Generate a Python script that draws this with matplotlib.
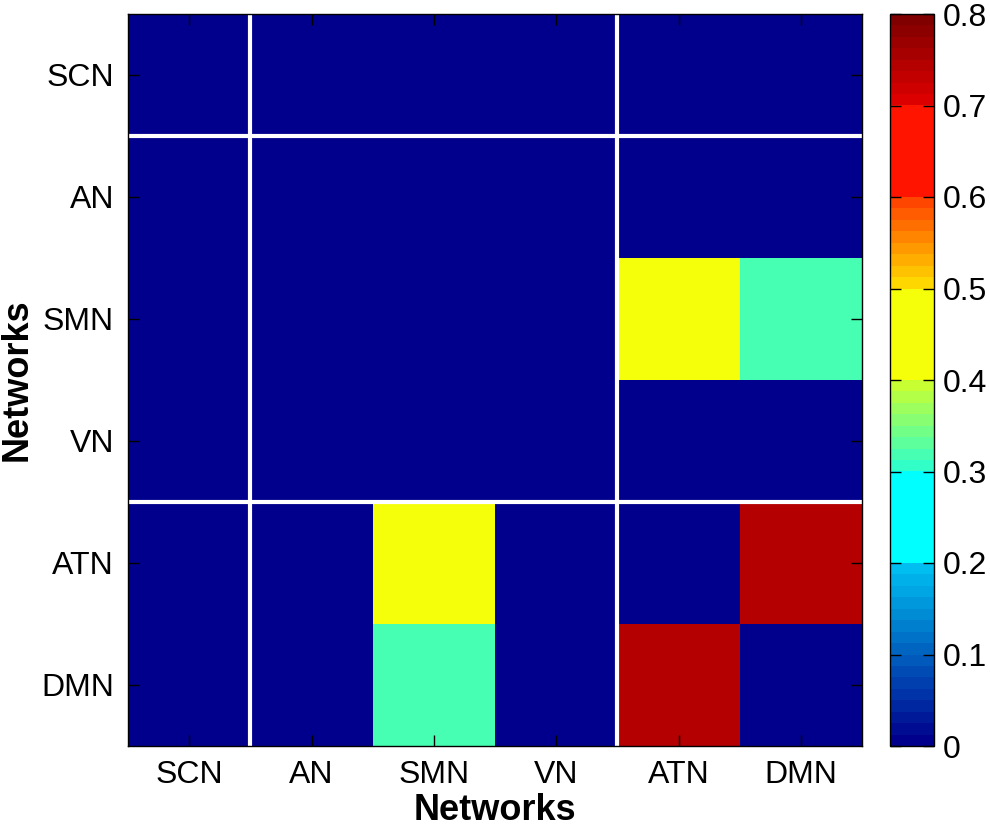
import numpy as np
import matplotlib
matplotlib.use("Agg")
import matplotlib.pyplot as plt
from matplotlib.colors import ListedColormap

plt.rcParams['font.family'] = ['Liberation Sans', 'DejaVu Sans']

networks = ["SCN", "AN", "SMN", "VN", "ATN", "DMN"]

# connectivity matrix, rows top to bottom
conn = np.array([
    [0.00, 0.00, 0.00, 0.00, 0.00, 0.00],
    [0.00, 0.00, 0.00, 0.00, 0.00, 0.00],
    [0.00, 0.00, 0.00, 0.00, 0.45, 0.32],
    [0.00, 0.00, 0.00, 0.00, 0.00, 0.00],
    [0.00, 0.00, 0.45, 0.00, 0.00, 0.74],
    [0.00, 0.00, 0.32, 0.00, 0.74, 0.00],
])

# group boundaries (after SCN, after VN)
group_edges = [0.5, 3.5]

# piecewise jet-like colormap, 64 steps over 0..0.8
def ramp(c0, c1, n):
    c0 = np.array(c0) / 255.0
    c1 = np.array(c1) / 255.0
    return [c0 + (c1 - c0) * i / (n - 1) for i in range(n)]

cols = []
cols += ramp((0, 0, 140), (0, 190, 240), 16)
cols += ramp((0, 255, 255), (0, 255, 255), 8)
cols += ramp((50, 255, 200), (200, 255, 50), 8)
cols += ramp((245, 255, 10), (245, 255, 10), 8)
cols += ramp((255, 215, 0), (255, 70, 0), 8)
cols += ramp((255, 20, 0), (255, 20, 0), 8)
cols += ramp((220, 0, 0), (128, 0, 0), 8)
cmap = ListedColormap(cols)

fig = plt.figure(figsize=(9.9, 8.26), dpi=100)
ax = fig.add_axes([128/990, 1-746/826, (862-128)/990, (746-14)/826])
cax = fig.add_axes([890/990, 1-746/826, (934-890)/990, (746-14)/826])

im = ax.imshow(conn, cmap=cmap, vmin=0, vmax=0.8, aspect='auto',
               interpolation='nearest')

for e in group_edges:
    ax.axvline(e, color='white', lw=3)
    ax.axhline(e, color='white', lw=3)

ax.set_xticks(range(len(networks)))
ax.set_xticklabels(networks)
ax.set_yticks(range(len(networks)))
ax.set_yticklabels(networks)
ax.tick_params(direction='in', length=8, width=1, labelsize=23,
               top=True, right=True, pad=10)
ax.set_xlabel("Networks", fontsize=26, fontweight='bold', labelpad=2)
ax.set_ylabel("Networks", fontsize=26, fontweight='bold', labelpad=5)
for s in ax.spines.values():
    s.set_linewidth(1)

cb = fig.colorbar(im, cax=cax)
cb.set_ticks([0, 0.1, 0.2, 0.3, 0.4, 0.5, 0.6, 0.7, 0.8])
cb.set_ticklabels(["0", "0.1", "0.2", "0.3", "0.4", "0.5", "0.6", "0.7", "0.8"])
cax.tick_params(direction='in', length=8, width=1, labelsize=23,
                left=True, right=True, pad=6)
cb.outline.set_linewidth(1)

fig.savefig("out.png", dpi=100)
